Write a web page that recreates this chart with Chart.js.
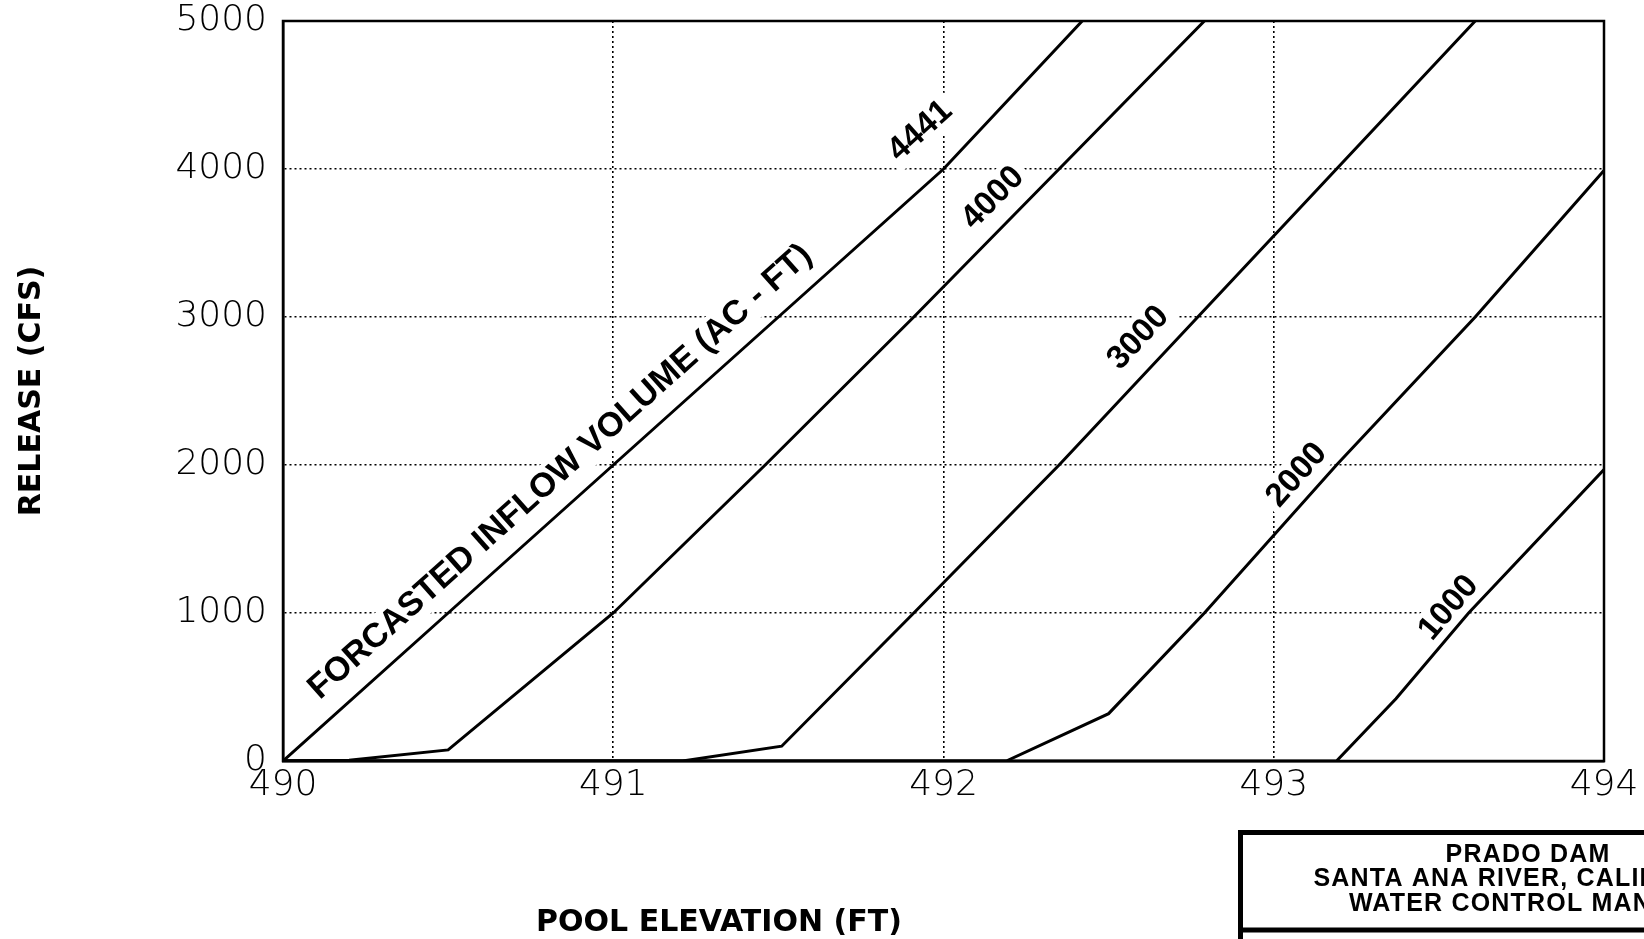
<!DOCTYPE html>
<html>
<head>
<meta charset="utf-8">
<title>Prado Dam - Release vs Pool Elevation</title>
<script src="https://cdn.jsdelivr.net/npm/chart.js@4.4.1/dist/chart.umd.min.js"></script>
<style>
    html, body { margin: 0; padding: 0; background: #fff; }
    canvas { display: block; }
</style>
</head>
<body>
<canvas id="chartRelease" width="1644" height="939"></canvas>
<script>

/* ---------- data ---------- */

const elevationTicks = [490, 491, 492, 493, 494];
const releaseTicks = [0, 1000, 2000, 3000, 4000, 5000];

const volumes = ["4441", "4000", "3000", "2000", "1000"];

// forecasted inflow volume (ac-ft) curves
const elev4441 = [490, 490.5, 491, 491.5, 492, 492.42];
const rel4441  = [0, 1000, 2000, 3000, 4000, 5000];

const elev4000 = [490, 490.2, 490.5, 491, 491.46, 491.91, 492.35, 492.79];
const rel4000  = [0, 5, 75, 1000, 2000, 3000, 4000, 5000];

const elev3000 = [490, 491.21, 491.51, 491.91, 492.35, 492.77, 493.19, 493.61];
const rel3000  = [0, 0, 100, 1000, 2000, 3000, 4000, 5000];

const elev2000 = [490, 492.19, 492.5, 492.79, 493.19, 493.61, 494];
const rel2000  = [0, 0, 320, 1000, 2000, 3000, 3990];

const elev1000 = [490, 493.19, 493.37, 493.59, 494];
const rel1000  = [0, 0, 420, 1000, 1970];

// curve labels (centre of text, in data units) and which curve gives the slope
const labelTexts   = ["FORCASTED INFLOW VOLUME (AC - FT)", "4441", "4000", "3000", "2000", "1000"];
const labelElev    = [490.84, 491.93, 492.15, 492.59, 493.07, 493.53];
const labelRelease = [1953, 4257, 3804, 2858, 1932, 1034];
const labelCurve   = [0, 0, 1, 2, 3, 4];
const labelSize    = [34, 33, 33, 33, 33, 33];

const titleBoxLines = ["PRADO DAM", "SANTA ANA RIVER, CALIFORNIA", "WATER CONTROL MANUAL"];

/* ---------- helpers ---------- */

function toPoints(xs, ys) {
    return xs.map((x, i) => ({ x: x, y: ys[i] }));
}

const curves = [
    toPoints(elev4441, rel4441),
    toPoints(elev4000, rel4000),
    toPoints(elev3000, rel3000),
    toPoints(elev2000, rel2000),
    toPoints(elev1000, rel1000)
];

function labelGeometry(chart, i) {
    const xs = chart.scales.x;
    const ys = chart.scales.y;
    const pts = curves[labelCurve[i]];
    const ex = labelElev[i];
    let a = pts[pts.length - 2], b = pts[pts.length - 1];
    for (let k = 0; k < pts.length - 1; k++) {
        if (ex >= pts[k].x && ex <= pts[k + 1].x && pts[k + 1].y > pts[k].y) {
            a = pts[k]; b = pts[k + 1];
            break;
        }
    }
    const ang = Math.atan2(
        ys.getPixelForValue(b.y) - ys.getPixelForValue(a.y),
        xs.getPixelForValue(b.x) - xs.getPixelForValue(a.x)
    );
    return {
        x: xs.getPixelForValue(ex),
        y: ys.getPixelForValue(labelRelease[i]),
        angle: ang
    };
}

function labelFont(i) {
    return "bold " + labelSize[i] + "px 'Liberation Sans', Arial, sans-serif";
}

const platePlugin = {

    id: "plate",

    beforeDatasetsDraw(chart) {
        // white knock-outs behind the curve labels (breaks the dotted grid)
        const ctx = chart.ctx;
        ctx.save();
        labelTexts.forEach((txt, i) => {
            const g = labelGeometry(chart, i);
            ctx.font = labelFont(i);
            const w = ctx.measureText(txt).width;
            ctx.save();
            ctx.translate(g.x, g.y);
            ctx.rotate(g.angle);
            ctx.fillStyle = "#fff";
            ctx.fillRect(-w / 2 - 6, -labelSize[i] * 0.55, w + 12, labelSize[i] * 1.1);
            ctx.restore();
        });
        ctx.restore();
    },

    afterDatasetsDraw(chart) {
        const ctx = chart.ctx;
        const a = chart.chartArea;

        ctx.save();

        // frame
        ctx.strokeStyle = "#000";
        ctx.lineWidth = 2.5;
        ctx.strokeRect(a.left, a.top, a.right - a.left, a.bottom - a.top);

        // curve labels
        ctx.fillStyle = "#000";
        ctx.textAlign = "center";
        ctx.textBaseline = "middle";
        labelTexts.forEach((txt, i) => {
            const g = labelGeometry(chart, i);
            ctx.font = labelFont(i);
            ctx.save();
            ctx.translate(g.x, g.y);
            ctx.rotate(g.angle);
            ctx.fillText(txt, 0, 0);
            ctx.restore();
        });

        // axis titles
        ctx.font = "bold 30px 'DejaVu Sans', sans-serif";
        ctx.save();
        ctx.translate(32, (a.top + a.bottom) / 2);
        ctx.rotate(-Math.PI / 2);
        ctx.fillText("RELEASE (CFS)", 0, 0);
        ctx.restore();

        ctx.fillText("POOL ELEVATION (FT)", 719, 923);

        // title block, bottom right
        ctx.lineWidth = 5;
        ctx.strokeRect(1240.5, 832.5, 500, 200);
        ctx.beginPath();
        ctx.moveTo(1238, 930);
        ctx.lineTo(1644, 930);
        ctx.stroke();

        ctx.font = "bold 25px 'Liberation Sans', Arial, sans-serif";
        ctx.letterSpacing = "1.2px";
        titleBoxLines.forEach((t, i) => {
            ctx.fillText(t, 1528, 855 + i * 24.5);
        });

        ctx.restore();
    }
};

/* ---------- chart ---------- */

const tickFont = { family: "'DejaVu Sans', sans-serif", size: 36, weight: 200 };

function interiorGrid(values) {
    const lo = values[0];
    const hi = values[values.length - 1];
    return (c) => (c.tick && (c.tick.value === lo || c.tick.value === hi)) ? "rgba(0,0,0,0)" : "#000";
}

function noOverflow(s) {
    s.paddingTop = 0;
    s.paddingBottom = 0;
    s.paddingLeft = 0;
    s.paddingRight = 0;
}

const releaseChart = new Chart(document.getElementById("chartRelease").getContext("2d"), {

    type: "scatter",

    data: {
        datasets: curves.map((pts, i) => ({
            label: volumes[i],
            data: pts,
            showLine: true,
            borderColor: "#000",
            backgroundColor: "#000",
            borderWidth: 3,
            pointRadius: 0,
            tension: 0
        }))
    },

    options: {
        responsive: false,
        animation: false,
        devicePixelRatio: 1,
        layout: {
            padding: { top: 21, right: 40, left: 0, bottom: 0 }
        },
        plugins: {
            legend: { display: false },
            tooltip: { enabled: false }
        },
        scales: {
            x: {
                type: "linear",
                min: elevationTicks[0],
                max: elevationTicks[elevationTicks.length - 1],
                afterBuildTicks: (s) => { s.ticks = elevationTicks.map(v => ({ value: v })); },
                afterFit: (s) => { s.height = 178; noOverflow(s); },
                ticks: {
                    color: "#000",
                    font: tickFont,
                    padding: 3,
                    maxRotation: 0,
                    callback: (v) => String(v)
                },
                grid: {
                    color: interiorGrid(elevationTicks),
                    lineWidth: 1.6,
                    drawTicks: false
                },
                border: { display: true, color: "#000", width: 2.5, dash: [2, 3] }
            },
            y: {
                type: "linear",
                min: releaseTicks[0],
                max: releaseTicks[releaseTicks.length - 1],
                afterBuildTicks: (s) => { s.ticks = releaseTicks.map(v => ({ value: v })); },
                afterFit: (s) => { s.width = 283; noOverflow(s); },
                ticks: {
                    color: "#000",
                    font: tickFont,
                    padding: 16,
                    callback: (v) => String(v)
                },
                grid: {
                    color: interiorGrid(releaseTicks),
                    lineWidth: 1.6,
                    drawTicks: false
                },
                border: { display: true, color: "#000", width: 2.5, dash: [2, 3] }
            }
        }
    },

    plugins: [platePlugin]

});

</script>
</body>
</html>
